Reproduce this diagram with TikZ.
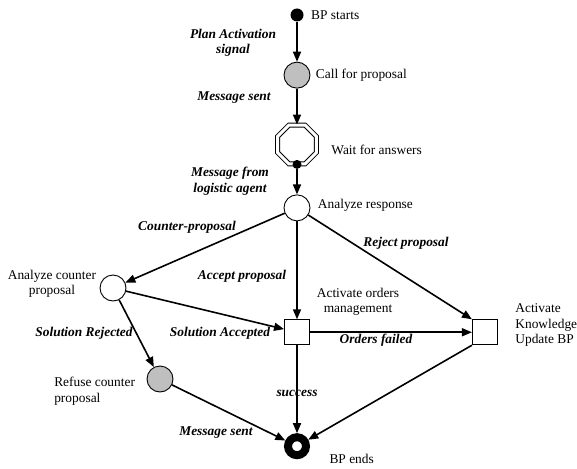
\documentclass[tikz,border=0pt]{standalone}
\usepackage{fontspec}
\setmainfont{Liberation Serif}
\usepackage{tikz}
\usetikzlibrary{shapes.geometric,arrows.meta,positioning}
\newcommand{\diafont}{\fontsize{13.4}{15.5}\selectfont}

\begin{document}
\begin{tikzpicture}[x=1pt, y=-1pt, every node/.style={font=\diafont}]
\tikzstyle{ball} = [circle, draw=black, line width=0.9pt, minimum size=26pt, inner sep=0pt]
\tikzstyle{grayball} = [ball, fill=black!25]
\tikzstyle{startdot} = [circle, fill=black, minimum size=13pt, inner sep=0pt]
\tikzstyle{smalldot} = [circle, fill=black, minimum size=9pt, inner sep=0pt]
\tikzstyle{task} = [rectangle, draw=black, line width=0.9pt, minimum size=25pt, inner sep=0pt]
\tikzstyle{waitbox} = [regular polygon, regular polygon sides=8, draw=black, line width=1pt, double, double distance=3pt, minimum size=42pt, inner sep=0pt]
\tikzstyle{endring} = [circle, draw=black, line width=8pt, minimum size=18pt, inner sep=0pt]
\tikzstyle{txt} = [align=center]
\tikzstyle{lbl} = [align=center, font=\diafont\bfseries\itshape]
\tikzstyle{arrow} = [line width=1.6pt, ->, >={Triangle[length=10pt,width=8pt]}]

\useasboundingbox (0,0) rectangle (577,468);

% states
\node (start) [startdot] at (297,15) {};
\node (call) [grayball, below=40pt of start] {};
\node (wait) [waitbox, below=36pt of call] {};
\node (waitdot) [smalldot] at (wait.south) {};
\node (analyze) [ball, below=30pt of wait] {};
\node (orders) [task, below=98pt of analyze] {};
\node (know) [task, right=162pt of orders] {};
\node (finish) [endring, below=88pt of orders] {};
\node (counter) [ball] at (113,288) {};
\node (refuse) [grayball] at (160,379) {};

% state names
\node (tstart) [right=4pt of start] {BP starts};
\node (tcall) [right=2pt of call] {Call for proposal};
\node (twait) [right=11pt of wait, yshift=-5pt] {Wait for answers};
\node (tanalyze) [right=4pt of analyze, yshift=3pt] {Analyze response};
\node (torders) [txt] at (358,302) {Activate orders\\management};
\node (tknow) [align=left, right=14pt of know, yshift=7pt] {Activate\\Knowledge\\Update BP};
\node (tcounter) [txt, left=0pt of counter, yshift=4pt] {Analyze counter\\proposal};
\node (trefuse) [align=left, left=8pt of refuse, yshift=-12pt] {Refuse counter\\proposal};
\node (tfinish) [right=16pt of finish, yshift=-13pt] {BP ends};

% transition labels
\node (lplan) [lbl] at (233,43) {Plan Activation\\signal};
\node (lsent) [lbl] at (234,98) {Message sent};
\node (lmsg) [lbl] at (230,181) {Message from\\logistic agent};
\node (lcounter) [lbl] at (187,227) {Counter-proposal};
\node (laccept) [lbl] at (242,276) {Accept proposal};
\node (lreject) [lbl] at (406,243) {Reject proposal};
\node (lsolrej) [lbl] at (84,333) {Solution Rejected};
\node (lsolacc) [lbl] at (220,333) {Solution Accepted};
\node (lfailed) [lbl] at (376,340) {Orders failed};
\node (lsuccess) [lbl] at (297,393) {success};
\node (lsent2) [lbl] at (216,433) {Message sent};

\draw[arrow] (start) -- (call);
\draw[arrow] (call) -- (wait);
\draw[arrow] (waitdot) -- (analyze);
\draw[arrow] (analyze) -- (counter);
\draw[arrow] (analyze) -- (orders);
\draw[arrow] (analyze) -- (know.north west);
\draw[arrow] (counter) -- (orders);
\draw[arrow] (counter) -- (refuse);
\draw[arrow] (orders) -- (know);
\draw[arrow] (orders) -- (finish);
\draw[arrow] (refuse) -- (finish);
\draw[arrow] (know.south west) -- (finish);
\end{tikzpicture}
\end{document}
